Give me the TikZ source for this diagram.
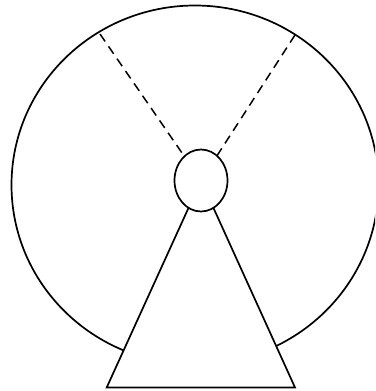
\documentclass[tikz,border=0pt]{standalone}
\begin{document}
\begin{tikzpicture}[x=1pt,y=-1pt,line width=1.7pt,
  outline/.style={draw=black,line width=1.7pt},
  spoke/.style={draw=black,line width=1.5pt,dash pattern=on 9pt off 6pt}]
\useasboundingbox (0,0) rectangle (375,391);
\clip (0,0) rectangle (375,391);
% big wheel
\draw[outline] (195,185) ellipse [x radius=183.5, y radius=179.5];
\coordinate (hub) at (201,180.5);
\coordinate (rimL) at (100,34);
\coordinate (rimR) at (295,35);
\coordinate (baseL) at (106.7,387.5);
\coordinate (baseR) at (295,387.5);
% spokes
\draw[spoke] (rimL) -- (hub);
\draw[spoke] (rimR) -- (hub);
% stand
\filldraw[outline,fill=white,line join=miter] (hub) -- (baseR) -- (baseL) -- cycle;
% hub
\filldraw[outline,fill=white] (hub) ellipse [x radius=26.5, y radius=31];
\end{tikzpicture}
\end{document}
